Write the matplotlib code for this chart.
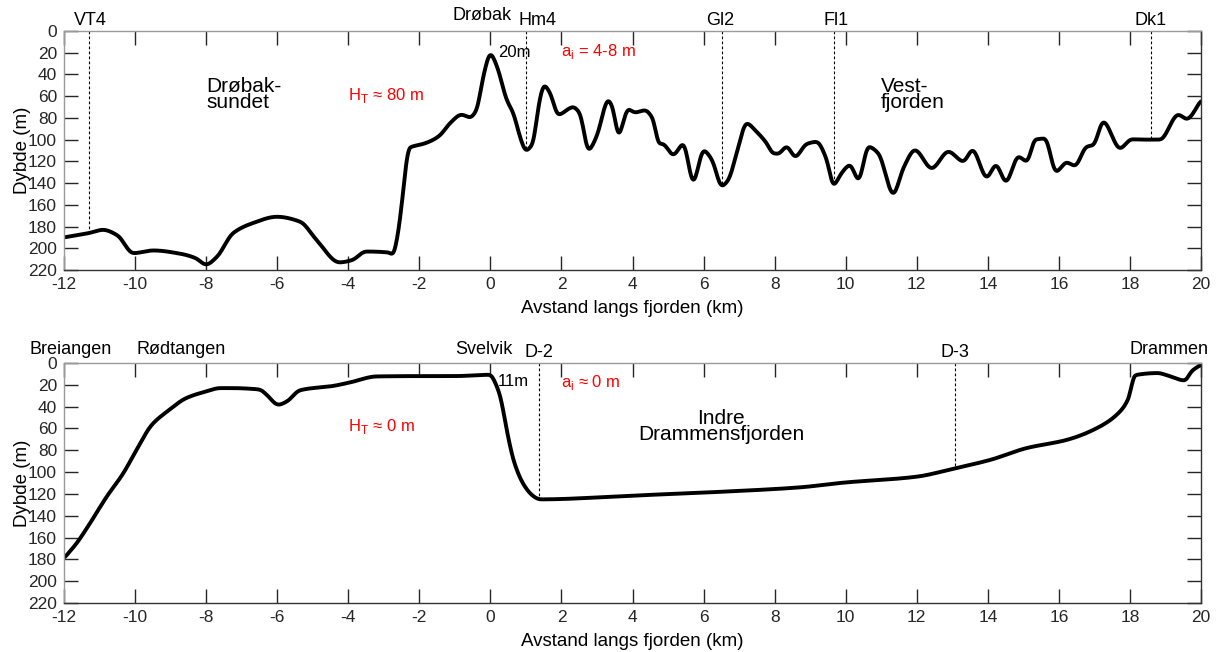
import numpy as np
import matplotlib
matplotlib.use("Agg")
import matplotlib.pyplot as plt

plt.rcParams['font.family'] = ['Liberation Sans', 'DejaVu Sans']
plt.rcParams['axes.unicode_minus'] = False
plt.rcParams['mathtext.fontset'] = 'custom'
plt.rcParams['mathtext.rm'] = 'Liberation Sans'

# ---- Top panel: Drøbak sill / Vestfjorden ----
top_km = [-12.0, -11.3, -10.9, -10.5, -10.05, -9.49, -8.73, -8.3, -8.0, -7.7, -7.24, -6.7,
          -6.01, -5.35, -4.9, -4.25, -3.9, -3.5, -2.84, -2.75, -2.57, -2.43, -2.3, -2.16,
          -1.9, -1.6, -1.41, -1.14, -0.81, -0.57, -0.39, -0.2, 0.0, 0.19, 0.46, 0.65,
          0.83, 1.0, 1.2, 1.35, 1.51, 1.68, 1.91, 2.33, 2.52, 2.76, 2.99, 3.32, 3.46,
          3.6, 3.88, 4.07, 4.35, 4.59, 4.73, 4.86, 5.15, 5.43, 5.71, 6.0, 6.24, 6.51,
          6.7, 6.93, 7.21, 7.49, 7.77, 7.96, 8.1, 8.34, 8.58, 8.9, 9.18, 9.47, 9.65,
          9.9, 10.12, 10.36, 10.64, 10.92, 11.34, 11.62, 11.95, 12.42, 12.89, 13.31,
          13.57, 13.97, 14.23, 14.51, 14.86, 15.1, 15.33, 15.61, 15.92, 16.22, 16.45,
          16.78, 16.97, 17.25, 17.72, 18.05, 18.4, 18.85, 19.36, 19.6, 20.0]
top_depth = [190, 186, 183, 188, 204.5, 202, 205, 209, 215, 208, 186, 177,
             171, 175.6, 192, 213, 211, 203, 204, 206, 180, 140, 108, 106,
             104, 100, 95.7, 85, 77, 79.5, 72.7, 42, 21, 33, 63.5, 76,
             97, 110, 103, 70, 50, 57, 77, 70, 76, 109.6, 97, 63.5, 72.7,
             95.8, 72, 75, 73, 82, 103.4, 104, 114, 104, 138.7, 110, 118.8, 142.7,
             137, 112.6, 85, 92.7, 103, 112.6, 113, 106.5, 115.7, 104, 102, 118.8, 141.8,
             130, 123.4, 137, 106.5, 112.6, 150, 126.4, 109.6, 126.4, 111, 120,
             109.6, 134.7, 123.4, 138.7, 115.7, 120, 100, 99, 129.5, 121, 124,
             106.5, 105, 83.5, 108, 99.7, 100, 100, 77, 81, 64]
top_stations = ['VT4', 'Hm4', 'Gl2', 'Fl1', 'Dk1']
top_station_km = [-11.3, 1.0, 6.51, 9.68, 18.6]
top_label_km = [-11.25, 1.33, 6.48, 9.72, 18.57]

# ---- Bottom panel: Svelvik sill / Drammensfjorden ----
bot_km = [-12.0, -11.64, -11.27, -10.8, -10.33, -9.96, -9.53, -9.1, -8.55, -7.99,
          -7.61, -7.24, -6.8, -6.48, -6.3, -5.97, -5.73, -5.36, -4.42, -3.95, -3.2,
          -2.0, -1.0, 0.0, 0.14, 0.28, 0.46, 0.65, 0.89, 1.12, 1.3, 1.4, 4.03, 6.84,
          8.71, 9.93, 12.0, 13.08, 14.06, 15.09, 16.22, 16.97, 17.72, 18.0, 18.1,
          18.2, 18.8, 19.0, 19.55, 19.73, 20.0]
bot_depth = [179, 165, 147, 122.6, 101, 79.7, 56.7, 44.5, 32, 26,
             23, 23, 23.5, 24.5, 29, 38.3, 35.3, 25, 21, 17.8, 12.3,
             12, 12, 10.8, 18.4, 30.7, 61.3, 88.9, 108.8, 119.5, 124, 125, 121.5, 117.5,
             114, 109.7, 104.2, 96.5, 88.9, 78, 70.5, 61.3, 44.5, 29, 12.3,
             10.8, 9.2, 10.8, 16, 7.7, 1.6]
bot_stations = ['D-2', 'D-3']
bot_station_km = [1.38, 13.08]
bot_places = ['Breiangen', 'Rødtangen', 'Svelvik', 'Drammen']
bot_place_km = [-11.8, -8.71, -0.17, 19.1]


def smooth_curve(xs, ys, n=1500):
    xs = np.asarray(xs, float)
    ys = np.asarray(ys, float)
    xx = np.linspace(xs[0], xs[-1], n)
    h = np.diff(xs)
    d = np.diff(ys) / h
    m = np.zeros_like(ys)
    m[0], m[-1] = d[0], d[-1]
    for i in range(1, len(xs) - 1):
        if d[i - 1] * d[i] > 0:
            w1 = 2 * h[i] + h[i - 1]
            w2 = h[i] + 2 * h[i - 1]
            m[i] = (w1 + w2) / (w1 / d[i - 1] + w2 / d[i])
    idx = np.clip(np.searchsorted(xs, xx) - 1, 0, len(xs) - 2)
    t = (xx - xs[idx]) / h[idx]
    h00 = 2 * t**3 - 3 * t**2 + 1
    h10 = t**3 - 2 * t**2 + t
    h01 = -2 * t**3 + 3 * t**2
    h11 = t**3 - t**2
    yy = h00 * ys[idx] + h10 * h[idx] * m[idx] + h01 * ys[idx + 1] + h11 * h[idx] * m[idx + 1]
    # light smoothing to round off corners
    k = np.ones(7) / 7
    pad = np.pad(yy, 3, mode='edge')
    yy = np.convolve(pad, k, mode='valid')
    return xx, yy


W, H = 1223, 652
fig = plt.figure(figsize=(W / 100, H / 100), dpi=100)
ax1 = fig.add_axes([64 / W, 1 - 270 / H, 1137 / W, 239 / H])
ax2 = fig.add_axes([64 / W, 1 - 603 / H, 1137 / W, 240 / H])


def style(ax):
    ax.set_xlim(-12, 20)
    ax.set_ylim(220, 0)
    ax.set_xticks(np.arange(-12, 21, 2))
    ax.set_yticks(np.arange(0, 221, 20))
    ax.tick_params(direction='in', top=True, right=True, length=10, width=1,
                   labelsize=12.5, colors='#262626', pad=5)
    for s in ['left', 'top']:
        ax.spines[s].set_color('#9a9a9a')
    for s in ['right', 'bottom']:
        ax.spines[s].set_color('#333333')
    for s in ax.spines.values():
        s.set_linewidth(1.0)
    ax.set_ylabel('Dybde (m)', fontsize=13.5)
    ax.set_xlabel('Avstand langs fjorden (km)', fontsize=13.5)
    ax.yaxis.set_label_coords(-0.029, 0.5)
    ax.xaxis.set_label_coords(0.5, -0.125)


for ax in (ax1, ax2):
    style(ax)

red = '#ff0000'
# top panel
xx, yy = smooth_curve(top_km, top_depth)
ax1.plot(xx, yy, color='black', lw=2.8, solid_capstyle='round')
for name, xs, xl in zip(top_stations, top_station_km, top_label_km):
    ax1.plot([xs, xs], [0, np.interp(xs, xx, yy)], color='black', lw=0.8, ls=(0, (2.5, 2)))
    ax1.text(xl, -2, name, ha='center', va='bottom', fontsize=13, clip_on=False)
ax1.text(-0.24, -6.5, 'Drøbak', ha='center', va='bottom', fontsize=13, clip_on=False)
ax1.text(-8.0, 58, 'Drøbak-\nsundet', ha='left', va='center', fontsize=15, linespacing=0.8)
ax1.text(11.0, 58, 'Vest-\nfjorden', ha='left', va='center', fontsize=15, linespacing=0.8)
ax1.text(-4.0, 59, r'H$_\mathregular{T}$' + ' ≈ 80 m', color=red, ha='left', va='center', fontsize=12)
ax1.text(2.0, 19, r'a$_\mathregular{i}$' + ' = 4-8 m', color=red, ha='left', va='center', fontsize=12)
ax1.text(0.22, 20, '20m', ha='left', va='center', fontsize=12)

# bottom panel
xb, yb = smooth_curve(bot_km, bot_depth)
ax2.plot(xb, yb, color='black', lw=2.8, solid_capstyle='round')
for name, xs in zip(bot_stations, bot_station_km):
    ax2.plot([xs, xs], [0, np.interp(xs, xb, yb)], color='black', lw=0.8, ls=(0, (2.5, 2)))
    ax2.text(xs, -1.5, name, ha='center', va='bottom', fontsize=13, clip_on=False)
for name, xs in zip(bot_places, bot_place_km):
    ax2.text(xs, -4.5, name, ha='center', va='bottom', fontsize=13, clip_on=False)
ax2.text(6.5, 58, 'Indre\nDrammensfjorden', ha='center', va='center', fontsize=15, linespacing=0.8)
ax2.text(-4.0, 58, r'H$_\mathregular{T}$' + ' ≈ 0 m', color=red, ha='left', va='center', fontsize=12)
ax2.text(2.0, 18, r'a$_\mathregular{i}$' + ' ≈ 0 m', color=red, ha='left', va='center', fontsize=12)
ax2.text(0.22, 17, '11m', ha='left', va='center', fontsize=12)

fig.savefig('out.png', dpi=100)
